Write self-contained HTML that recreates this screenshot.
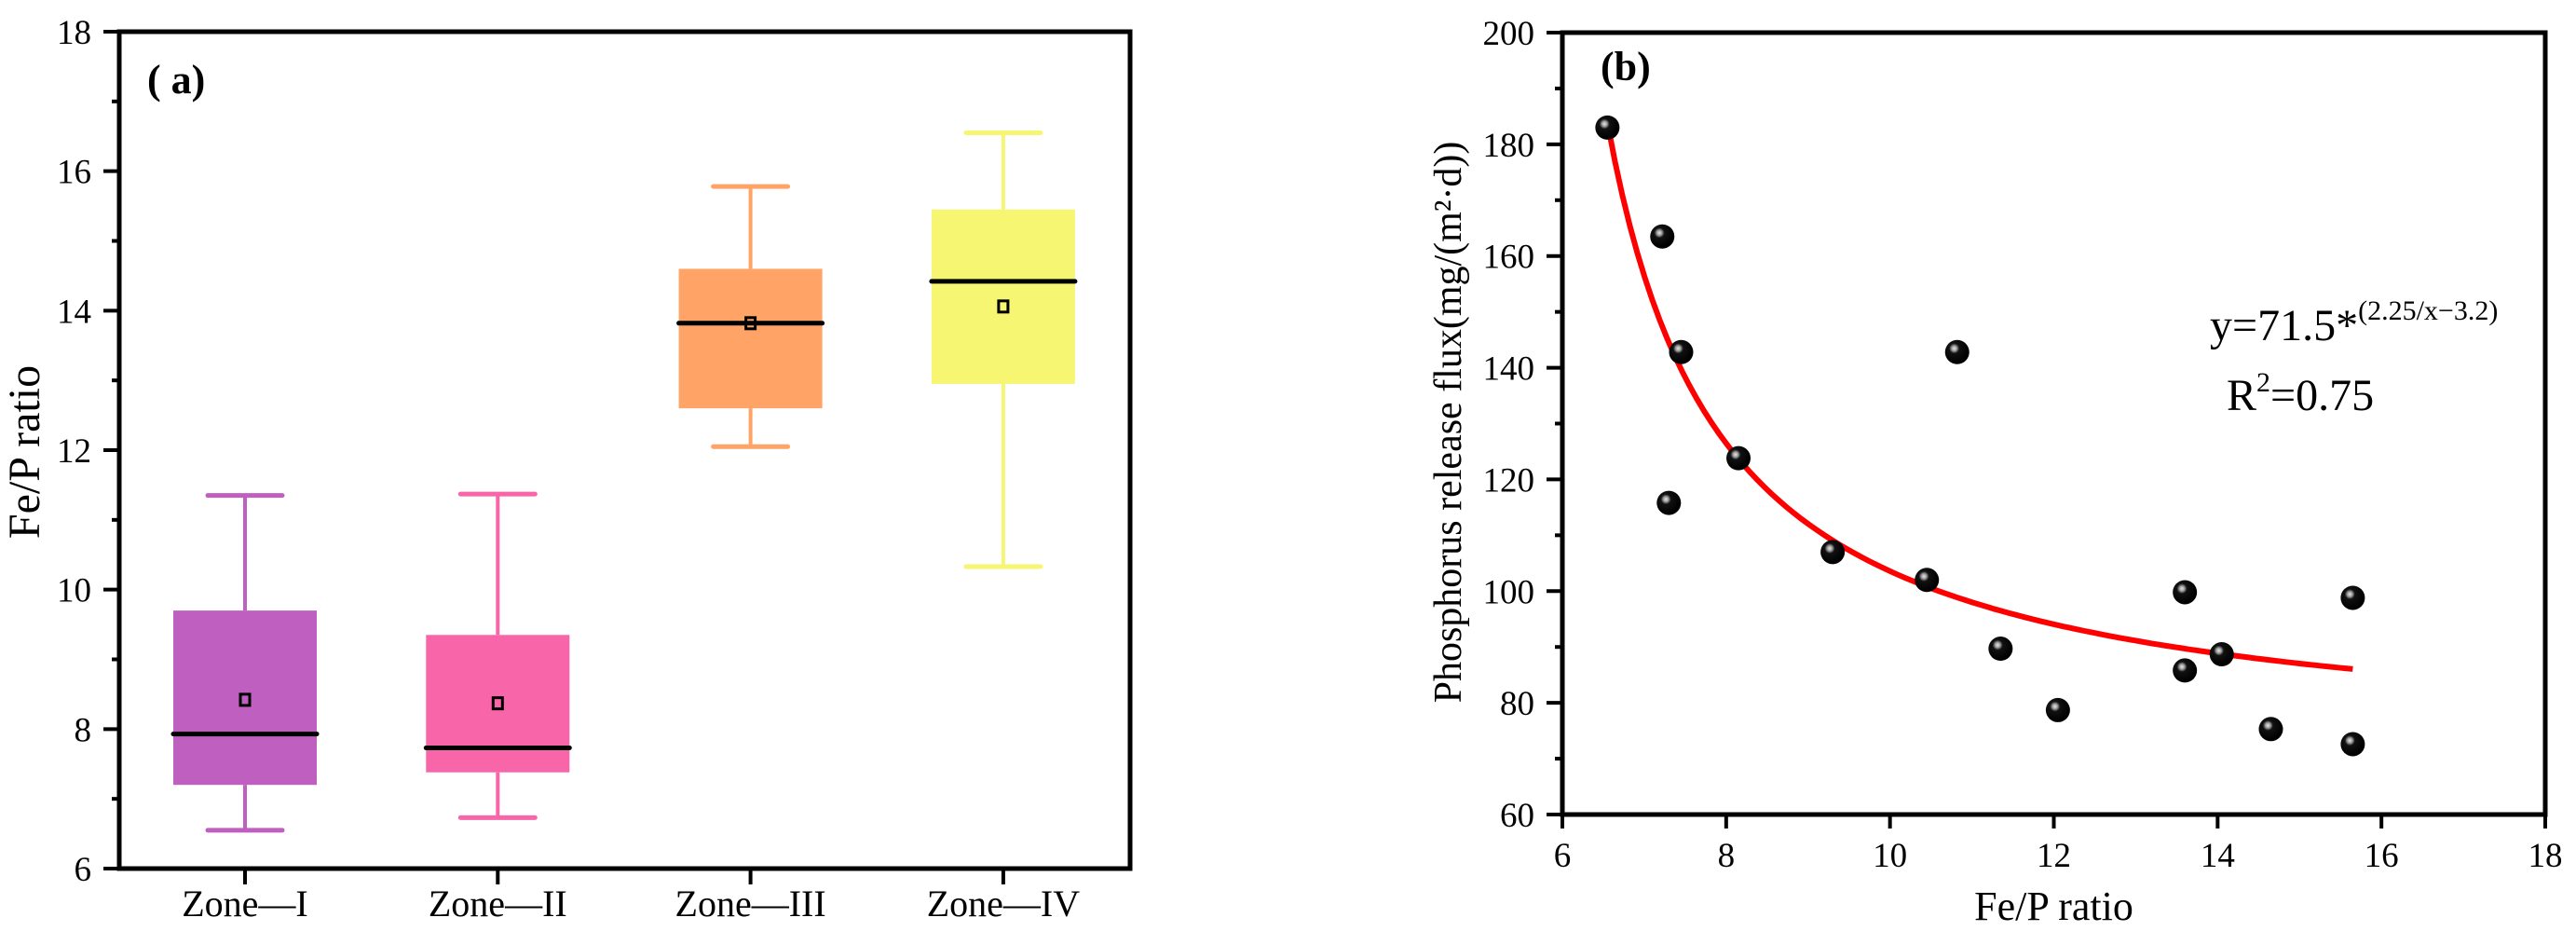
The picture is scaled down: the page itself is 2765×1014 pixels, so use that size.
<!DOCTYPE html>
<html><head><meta charset="utf-8"><style>
html,body{margin:0;padding:0;background:#fff;}
svg{display:block;font-family:"Liberation Serif",serif;}
</style></head><body>
<svg id="fig" width="2765" height="1014" viewBox="0 0 2765 1014" xmlns="http://www.w3.org/2000/svg">
<g id="left"></g>
<g id="right"></g>
</svg>
<script>
// Panel (a) data
const zones = ["Zone\u2014I","Zone\u2014II","Zone\u2014III","Zone\u2014IV"];
const whiskerMax = [11.35, 11.37, 15.78, 16.55];
const q3 = [9.7, 9.35, 14.6, 15.45];
const median = [7.93, 7.73, 13.82, 14.42];
const mean = [8.42, 8.37, 13.82, 14.06];
const q1 = [7.2, 7.38, 12.6, 12.95];
const whiskerMin = [6.55, 6.73, 12.05, 10.33];
const leftTicks = [6, 8, 10, 12, 14, 16, 18];
const colors = ["#bf5fbf", "#f865a8", "#ffa366", "#f6f672"];
// Panel (b) data
const fluxX = [6.55, 7.22, 7.45, 7.3, 8.15, 9.3, 10.45, 10.82, 11.35, 12.05, 13.6, 13.6, 14.05, 14.65, 15.65, 15.65];
const fluxY = [183, 163.5, 142.8, 115.8, 123.8, 107, 102, 142.8, 89.7, 78.7, 99.8, 85.8, 88.7, 75.3, 98.8, 72.6];
const rightXTicks = [6, 8, 10, 12, 14, 16, 18];
const rightYTicks = [60, 80, 100, 120, 140, 160, 180, 200];
const fitParams = [71, 158, 5.15]; // y = a + b/(x-c) approx of fitted curve
const fitRange = [6.55, 15.65];

const NS = "http://www.w3.org/2000/svg";
function mk(parent, tag, attrs, text){
  const e = document.createElementNS(NS, tag);
  for (const k in attrs) e.setAttribute(k, attrs[k]);
  if (text !== undefined) e.textContent = text;
  parent.appendChild(e);
  return e;
}
const L = document.getElementById("left");
const R = document.getElementById("right");

// ---------- Panel (a) ----------
const lx0 = 128, lx1 = 1213, ly0 = 34, ly1 = 932;
const ly = v => ly1 - (v - 6) / 12 * (ly1 - ly0);
const lx = i => 263 + i * 271.3;
const defs = mk(document.getElementById("fig"), "defs", {});
const rg = mk(defs, "radialGradient", {id:"ball", cx:"0.38", cy:"0.35", r:"0.6"});
mk(rg, "stop", {offset:"0", "stop-color":"#e8e8e8"});
mk(rg, "stop", {offset:"0.18", "stop-color":"#9a9a9a"});
mk(rg, "stop", {offset:"0.35", "stop-color":"#111"});
mk(rg, "stop", {offset:"1", "stop-color":"#000"});

for (let i = 0; i < zones.length; i++) {
  const g = mk(L, "g", {});
  
  
  const cx = lx(i), c = colors[i];
  mk(g, "line", {x1:cx, x2:cx, y1:ly(whiskerMax[i]), y2:ly(q3[i]), stroke:c, "stroke-width":4});
  mk(g, "line", {x1:cx, x2:cx, y1:ly(q1[i]), y2:ly(whiskerMin[i]), stroke:c, "stroke-width":4});
  mk(g, "line", {x1:cx-40, x2:cx+40, y1:ly(whiskerMax[i]), y2:ly(whiskerMax[i]), stroke:c, "stroke-width":5, "stroke-linecap":"round"});
  mk(g, "line", {x1:cx-40, x2:cx+40, y1:ly(whiskerMin[i]), y2:ly(whiskerMin[i]), stroke:c, "stroke-width":5, "stroke-linecap":"round"});
  mk(g, "rect", {x:cx-77, y:ly(q3[i]), width:154, height:ly(q1[i]) - ly(q3[i]), fill:c});
  mk(g, "line", {x1:cx-77, x2:cx+77, y1:ly(median[i]), y2:ly(median[i]), stroke:"#000", "stroke-width":5, "stroke-linecap":"round"});
  mk(g, "rect", {x:cx-5, y:ly(mean[i])-6, width:10, height:12, fill:"none", stroke:"#000", "stroke-width":3});
  mk(L, "line", {x1:cx, x2:cx, y1:ly1, y2:ly1+17, stroke:"#000", "stroke-width":4});
  const t = mk(L, "text", {x:cx, y:983, "font-size":40, "text-anchor":"middle"}, zones[i]);
  
  
}
for (const v of leftTicks) {
  mk(L, "line", {x1:lx0-17, x2:lx0, y1:ly(v), y2:ly(v), stroke:"#000", "stroke-width":4});
  const t = mk(L, "text", {x:98, y:ly(v)+13, "font-size":37, "text-anchor":"end"}, v);
  
  
  if (v < 18) mk(L, "line", {x1:lx0-8, x2:lx0, y1:ly(v+1), y2:ly(v+1), stroke:"#000", "stroke-width":4});
}
const lf = mk(L, "rect", {x:lx0, y:ly0, width:lx1-lx0, height:ly1-ly0, fill:"none", stroke:"#000", "stroke-width":5});


const la = mk(L, "text", {x:158, y:100, "font-size":44, "font-weight":"bold"}, "( a)");


const lyt = mk(L, "text", {x:42, y:485, "font-size":48, "text-anchor":"middle", transform:"rotate(-90 42 485)"}, "Fe/P ratio");



// ---------- Panel (b) ----------
const rx0 = 1677, rx1 = 2732, ry0 = 35, ry1 = 874;
const rx = v => rx0 + (v - 6) / 12 * (rx1 - rx0);
const ry = v => ry1 - (v - 60) / 140 * (ry1 - ry0);
for (const v of rightXTicks) {
  mk(R, "line", {x1:rx(v), x2:rx(v), y1:ry1, y2:ry1+15, stroke:"#000", "stroke-width":4});
  const t = mk(R, "text", {x:rx(v), y:930, "font-size":37, "text-anchor":"middle"}, v);
  
  
}
for (const v of rightYTicks) {
  mk(R, "line", {x1:rx0-17, x2:rx0, y1:ry(v), y2:ry(v), stroke:"#000", "stroke-width":4});
  const t = mk(R, "text", {x:1647, y:ry(v)+13, "font-size":37, "text-anchor":"end"}, v);
  
  
  if (v < 200) mk(R, "line", {x1:rx0-8, x2:rx0, y1:ry(v+10), y2:ry(v+10), stroke:"#000", "stroke-width":4});
}
// fit curve
let d = "";
for (let k = 0; k <= 100; k++) {
  const x = fitRange[0] + (fitRange[1] - fitRange[0]) * k / 100;
  const y = fitParams[0] + fitParams[1] / (x - fitParams[2]);
  d += (k ? "L" : "M") + rx(x).toFixed(1) + "," + ry(y).toFixed(1);
}
const fit = mk(R, "path", {d:d, fill:"none", stroke:"#ff0000", "stroke-width":6});


for (let i = 0; i < fluxX.length; i++) {
  const p = mk(R, "circle", {cx:rx(fluxX[i]), cy:ry(fluxY[i]), r:13, fill:"url(#ball)"});
  
  
}
const rf = mk(R, "rect", {x:rx0, y:ry0, width:rx1-rx0, height:ry1-ry0, fill:"none", stroke:"#000", "stroke-width":5});


const rb = mk(R, "text", {x:1718, y:86, "font-size":44, "font-weight":"bold"}, "(b)");


const eq = mk(R, "text", {x:2372, y:365, "font-size":48}, "y=71.5*");


mk(eq, "tspan", {dy:-22, "font-size":30}, "(2.25/x\u22123.2)");
const r2 = mk(R, "text", {x:2390, y:440, "font-size":48}, "R");


mk(r2, "tspan", {dy:-20, "font-size":30}, "2");
mk(r2, "tspan", {dy:20}, "=0.75");
const rxt = mk(R, "text", {x:rx(12), y:987, "font-size":44, "text-anchor":"middle"}, "Fe/P ratio");


const ryt = mk(R, "text", {x:1568, y:453, "font-size":42, "text-anchor":"middle", transform:"rotate(-90 1568 453)"}, "Phosphorus release flux(mg/(m\u00b2\u00b7d))");


</script>
</body></html>
